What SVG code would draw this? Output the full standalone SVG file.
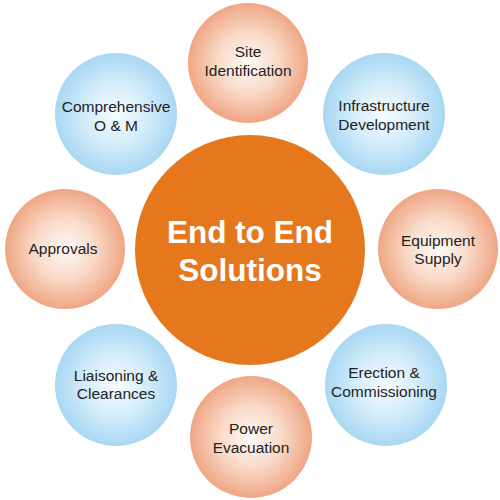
<svg xmlns="http://www.w3.org/2000/svg" width="500" height="500" viewBox="0 0 500 500">
<defs>
<radialGradient id="peach" cx="50%" cy="50%" r="50%">
<stop offset="0" stop-color="#fffaf6"/>
<stop offset="0.5" stop-color="#f9dac8"/>
<stop offset="1" stop-color="#efa684"/>
</radialGradient>
<radialGradient id="blue" cx="50%" cy="50%" r="50%">
<stop offset="0" stop-color="#f6fcff"/>
<stop offset="0.5" stop-color="#d5edfa"/>
<stop offset="1" stop-color="#a8d7f3"/>
</radialGradient>
</defs>
<style>
.p{fill:url(#peach)}
.b{fill:url(#blue)}
.t{font-family:"Liberation Sans",Arial,sans-serif;font-size:15.5px;fill:#222;text-anchor:middle}
.c{font-family:"Liberation Sans",Arial,sans-serif;font-size:31.5px;font-weight:bold;fill:#fff;text-anchor:middle}
</style>
<rect width="500" height="500" fill="#fff"/>
<g id="connectors"/>
<g id="site"><circle class="p" cx="248" cy="63" r="60"/><text class="t" x="248" y="57">Site</text><text class="t" x="248" y="76">Identification</text></g>
<g id="infra"><circle class="b" cx="384" cy="114" r="61"/><text class="t" x="384" y="111">Infrastructure</text><text class="t" x="384" y="130">Development</text></g>
<g id="equip"><circle class="p" cx="438" cy="249" r="60"/><text class="t" x="438" y="246">Equipment</text><text class="t" x="438" y="264">Supply</text></g>
<g id="erection"><circle class="b" cx="386" cy="385" r="61"/><text class="t" x="384" y="378">Erection &amp;</text><text class="t" x="384" y="397">Commissioning</text></g>
<g id="power"><circle class="p" cx="251" cy="437" r="61"/><text class="t" x="251" y="434">Power</text><text class="t" x="251" y="453">Evacuation</text></g>
<g id="liaison"><circle class="b" cx="116" cy="385" r="61"/><text class="t" x="116" y="381">Liaisoning &amp;</text><text class="t" x="116" y="399">Clearances</text></g>
<g id="approvals"><circle class="p" cx="65" cy="249" r="60"/><text class="t" x="63" y="254">Approvals</text></g>
<g id="om"><circle class="b" cx="116" cy="114" r="61"/><text class="t" x="116" y="112">Comprehensive</text><text class="t" x="116" y="131">O &amp; M</text></g>
<g id="center"><circle cx="250" cy="250" r="115" fill="#e5771c"/><text class="c" x="250" y="243">End to End</text><text class="c" x="250" y="281">Solutions</text></g>
</svg>
